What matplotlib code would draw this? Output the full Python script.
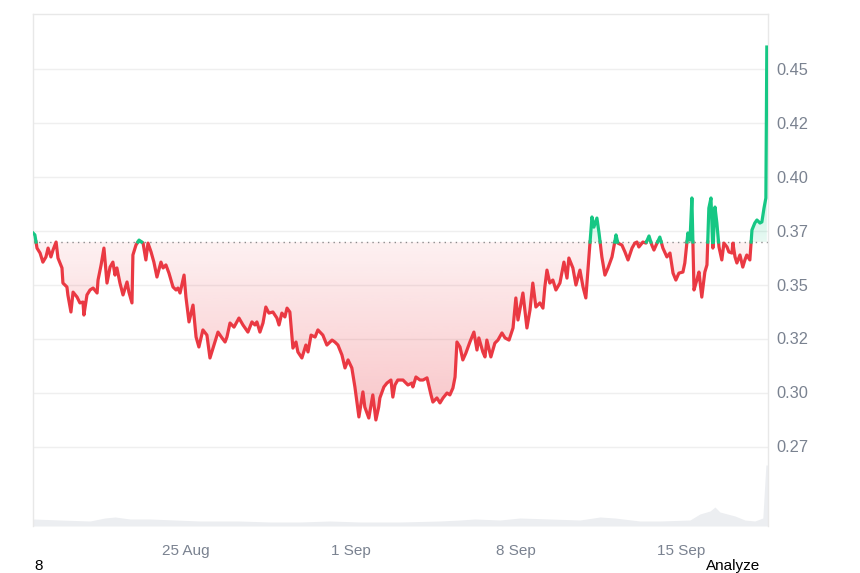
import numpy as np
import matplotlib
matplotlib.use("Agg")
import matplotlib.pyplot as plt
from matplotlib.path import Path
import matplotlib.transforms as mtransforms

# ---------------- data ----------------
# time in days since 18 Aug 00:00
days = [0.51, 0.59, 0.68, 0.81, 0.93, 1.06, 1.15, 1.27, 1.36, 1.49, 1.57, 1.74, 1.78, 1.95, 1.99,
        2.12, 2.21, 2.38, 2.50, 2.63, 2.67, 2.80, 2.93, 3.06, 3.23, 3.27, 3.40, 3.52, 3.65, 3.78,
        3.90, 3.99, 4.07, 4.20, 4.33, 4.50, 4.58, 4.71, 4.75, 4.88, 5.01, 5.18, 5.30, 5.39, 5.52,
        5.64, 5.77, 5.94, 6.03, 6.15, 6.28, 6.45, 6.58, 6.66,
        6.75, 6.92, 7.00, 7.13, 7.30, 7.43, 7.55, 7.72, 7.89, 8.02, 8.15, 8.36, 8.53, 8.66, 8.74,
        8.87, 9.04, 9.25, 9.42, 9.63, 9.80, 9.93, 10.01, 10.14, 10.27, 10.39, 10.52, 10.69, 10.86,
        10.95, 11.07, 11.20, 11.29, 11.41, 11.54, 11.67, 11.75, 11.92, 12.09, 12.18, 12.31, 12.48,
        12.60, 12.81, 12.98, 13.20, 13.32, 13.45, 13.62, 13.75, 13.88, 14.04, 14.17, 14.34, 14.51,
        14.59, 14.76, 14.93, 15.06, 15.18,
        15.23, 15.40, 15.53, 15.70, 15.78, 15.87, 15.99, 16.21, 16.42, 16.59, 16.63, 16.76, 16.93,
        17.06, 17.23, 17.40, 17.48, 17.65, 17.78, 17.91, 18.08, 18.20, 18.33, 18.42, 18.50, 18.63,
        18.75, 18.88, 19.05, 19.22, 19.35, 19.43, 19.60, 19.69, 19.77, 19.94, 20.11, 20.24, 20.41,
        20.54, 20.71, 20.88, 21.00, 21.09, 21.30, 21.47, 21.60, 21.72, 21.85, 22.02, 22.15, 22.23,
        22.32, 22.44, 22.57, 22.70, 22.87, 23.04, 23.17, 23.25,
        23.42, 23.55, 23.72, 23.85, 23.97, 24.10, 24.23, 24.31, 24.44, 24.53, 24.65, 24.78, 24.91,
        25.08, 25.16, 25.25, 25.33, 25.50, 25.63, 25.76, 25.93, 26.05, 26.14, 26.22, 26.39, 26.52,
        26.65, 26.77, 26.86, 26.99, 27.11, 27.24, 27.41, 27.54, 27.67, 27.79, 27.92, 28.09, 28.17,
        28.30, 28.39, 28.47, 28.56, 28.68, 28.77, 28.89, 29.02, 29.11, 29.19, 29.28, 29.36, 29.45,
        29.53, 29.62, 29.74, 29.83, 29.96, 30.04, 30.17, 30.21, 30.30, 30.38, 30.51, 30.63, 30.72,
        30.80, 30.93, 31.02, 31.14, 31.23, 31.36, 31.44, 31.53, 31.61, 31.65]

prices = [0.3741, 0.3732, 0.3671, 0.3648, 0.3606, 0.3630, 0.3671, 0.3630, 0.3662, 0.3699, 0.3625,
          0.3579, 0.3509, 0.3491, 0.3454, 0.3375, 0.3467, 0.3444, 0.3417, 0.3421, 0.3361, 0.3454,
          0.3477, 0.3486, 0.3463, 0.3523, 0.3593, 0.3671, 0.3509, 0.3583, 0.3606, 0.3546, 0.3579,
          0.3509, 0.3454, 0.3514, 0.3467, 0.3417, 0.3639, 0.3685, 0.3708, 0.3694, 0.3616, 0.3694,
          0.3653, 0.3606, 0.3537, 0.3606, 0.3579, 0.3593, 0.3555, 0.3491, 0.3477, 0.3486,
          0.3463, 0.3546, 0.3444, 0.3329, 0.3407, 0.3259, 0.3213, 0.3292, 0.3268, 0.3162, 0.3208,
          0.3282, 0.3255, 0.3236, 0.3259, 0.3324, 0.3305, 0.3347, 0.3315, 0.3282, 0.3329, 0.3315,
          0.3329, 0.3282, 0.3324, 0.3398, 0.3370, 0.3375, 0.3347, 0.3315, 0.3370, 0.3352, 0.3393,
          0.3375, 0.3208, 0.3236, 0.3190, 0.3162, 0.3222, 0.3190, 0.3268, 0.3259, 0.3292, 0.3268,
          0.3222, 0.3245, 0.3236, 0.3222, 0.3176, 0.3116, 0.3153, 0.3116, 0.3028, 0.2889, 0.3005,
          0.2935, 0.2884, 0.2991, 0.2875, 0.2935,
          0.2977, 0.3028, 0.3046, 0.3060, 0.2981, 0.3037, 0.3060, 0.3060, 0.3037, 0.3046, 0.3028,
          0.3074, 0.3060, 0.3060, 0.3070, 0.2991, 0.2958, 0.2977, 0.2954, 0.2977, 0.3000, 0.2991,
          0.3023, 0.3074, 0.3236, 0.3213, 0.3153, 0.3185, 0.3236, 0.3282, 0.3199, 0.3255, 0.3190,
          0.3167, 0.3245, 0.3167, 0.3231, 0.3245, 0.3278, 0.3255, 0.3245, 0.3301, 0.3440, 0.3338,
          0.3463, 0.3301, 0.3384, 0.3509, 0.3398, 0.3417, 0.3393, 0.3491, 0.3569, 0.3509, 0.3523,
          0.3477, 0.3509, 0.3606, 0.3532, 0.3625,
          0.3579, 0.3500, 0.3569, 0.3491, 0.3440, 0.3630, 0.3815, 0.3768, 0.3810, 0.3741, 0.3630,
          0.3546, 0.3579, 0.3630, 0.3676, 0.3732, 0.3694, 0.3685, 0.3653, 0.3616, 0.3671, 0.3694,
          0.3699, 0.3676, 0.3699, 0.3694, 0.3727, 0.3685, 0.3662, 0.3694, 0.3722, 0.3671, 0.3630,
          0.3648, 0.3555, 0.3523, 0.3555, 0.3560, 0.3602, 0.3741, 0.3708, 0.3903, 0.3477, 0.3523,
          0.3560, 0.3444, 0.3560, 0.3593, 0.3856, 0.3903, 0.3671, 0.3861, 0.3787, 0.3676, 0.3616,
          0.3694, 0.3676, 0.3653, 0.3648, 0.3694, 0.3630, 0.3602, 0.3639, 0.3583, 0.3616, 0.3639,
          0.3616, 0.3755, 0.3787, 0.3801, 0.3787, 0.3792, 0.3856, 0.3903, 0.4602]

vol_days = [0.51, 1.66, 2.93, 3.56, 3.99, 4.63, 5.47, 6.54, 7.60, 9.25, 10.57, 11.84, 13.11, 14.38,
            16.08, 17.78, 18.63, 19.26, 20.33, 21.17, 22.44, 23.72, 24.57, 25.20, 26.26, 27.11,
            28.39, 28.81, 29.24, 29.45, 29.66, 30.30, 30.72, 31.14, 31.48, 31.61, 31.70]
volumes = [7, 6, 5, 8, 9, 7, 7, 6, 5, 5, 4, 4, 5, 4, 4, 5, 6, 7, 6, 8, 7, 6, 9, 8, 5, 5, 6, 12,
           15, 19, 14, 10, 6, 5, 8, 61, 61]

baseline = 0.3699
tick_days = [7, 14, 21, 28]
tick_labels = ["25 Aug", "1 Sep", "8 Sep", "15 Sep"]
ytick_vals = [0.275, 0.30, 0.325, 0.35, 0.375, 0.40, 0.425, 0.45]
ytick_labels = ["0.27", "0.30", "0.32", "0.35", "0.37", "0.40", "0.42", "0.45"]

# ---------------- style ----------------
RED = "#ea3943"
GREEN = "#16c784"
GRID = "#efefef"
TXT = "#7a8290"
plt.rcParams["font.family"] = ["Liberation Sans", "DejaVu Sans"]

fig = plt.figure(figsize=(8.6, 5.73), dpi=100)
ax = fig.add_axes([33 / 860, 47 / 573, 735 / 860, 512 / 573])
xmin, xmax = 0.51, 31.70
ymin, ymax = 0.2384, 0.4755

# volume (background)
vax = ax.twinx()
vax.set_zorder(0)
ax.set_zorder(1)
ax.patch.set_visible(False)
vax.fill_between(vol_days, volumes, 0, color="#eceef1", lw=0)
vax.set_ylim(0, 512)
vax.set_yticks([])
for s in vax.spines.values():
    s.set_visible(False)

d = np.array(days)
p = np.array(prices)

# insert crossing points
xs, ys = [d[0]], [p[0]]
for i in range(1, len(d)):
    if (p[i - 1] - baseline) * (p[i] - baseline) < 0:
        t = (baseline - p[i - 1]) / (p[i] - p[i - 1])
        xs.append(d[i - 1] + t * (d[i] - d[i - 1]))
        ys.append(baseline)
    xs.append(d[i])
    ys.append(p[i])
xs = np.array(xs)
ys = np.array(ys)

# gradient fills
def grad_fill(mask, color, a0, a1, y_lo, y_hi, top_is_a0):
    coll = ax.fill_between(xs, ys, baseline, where=mask, interpolate=True,
                           facecolor="none", edgecolor="none")
    paths = coll.get_paths()
    if not paths:
        return
    cp = Path.make_compound_path(*paths)
    rgb = np.array(matplotlib.colors.to_rgb(color))
    n = 256
    alphas = np.linspace(a0, a1, n) if top_is_a0 else np.linspace(a1, a0, n)
    img = np.zeros((n, 1, 4))
    img[:, 0, :3] = rgb
    img[:, 0, 3] = alphas
    im = ax.imshow(img, extent=[xmin, xmax, y_lo, y_hi], origin="upper", aspect="auto",
                   interpolation="bilinear", zorder=1)
    im.set_clip_path(cp, ax.transData)

grad_fill(ys <= baseline, RED, 0.07, 0.30, 0.285, baseline, True)
grad_fill(ys >= baseline, GREEN, 0.10, 0.30, baseline, 0.40, False)
ax.set_xlim(xmin, xmax)
ax.set_ylim(ymin, ymax)

up = np.where(ys >= baseline, ys, np.nan)
dn = np.where(ys <= baseline, ys, np.nan)
ax.plot(xs, dn, color=RED, lw=2.3, solid_joinstyle="round", zorder=3)
ax.plot(xs, up, color=GREEN, lw=2.3, solid_joinstyle="round", zorder=3)

ax.axhline(baseline, color="#8c8c8c", lw=1.0, ls=(0, (1, 3)), zorder=2)

# grid & ticks
for v in ytick_vals:
    ax.axhline(v, color=GRID, lw=1.0, zorder=0)
ax.set_yticks([])
ax.set_xticks(tick_days)
ax.set_xticklabels(tick_labels, color=TXT, fontsize=11)
ax.tick_params(axis="x", length=0, pad=13)
ytrans = ax.get_yaxis_transform() + mtransforms.ScaledTranslation(0, -1 / 100, fig.dpi_scale_trans)
for v, lab in zip(ytick_vals, ytick_labels):
    ax.text(1.012, v, lab, transform=ytrans, ha="left", va="center",
            color=TXT, fontsize=11.8)

for side in ["left", "top", "right"]:
    ax.spines[side].set_color("#e8e8e8")
    ax.spines[side].set_linewidth(1.0)
ax.spines["bottom"].set_visible(False)

fig.text(34 / 860, 1 - 566 / 573, "8", ha="left", va="center", fontsize=11, color="black")
fig.text(760 / 860, 1 - 566 / 573, "Analyze", ha="right", va="center", fontsize=11, color="black")

fig.savefig("out.png", dpi=100)
